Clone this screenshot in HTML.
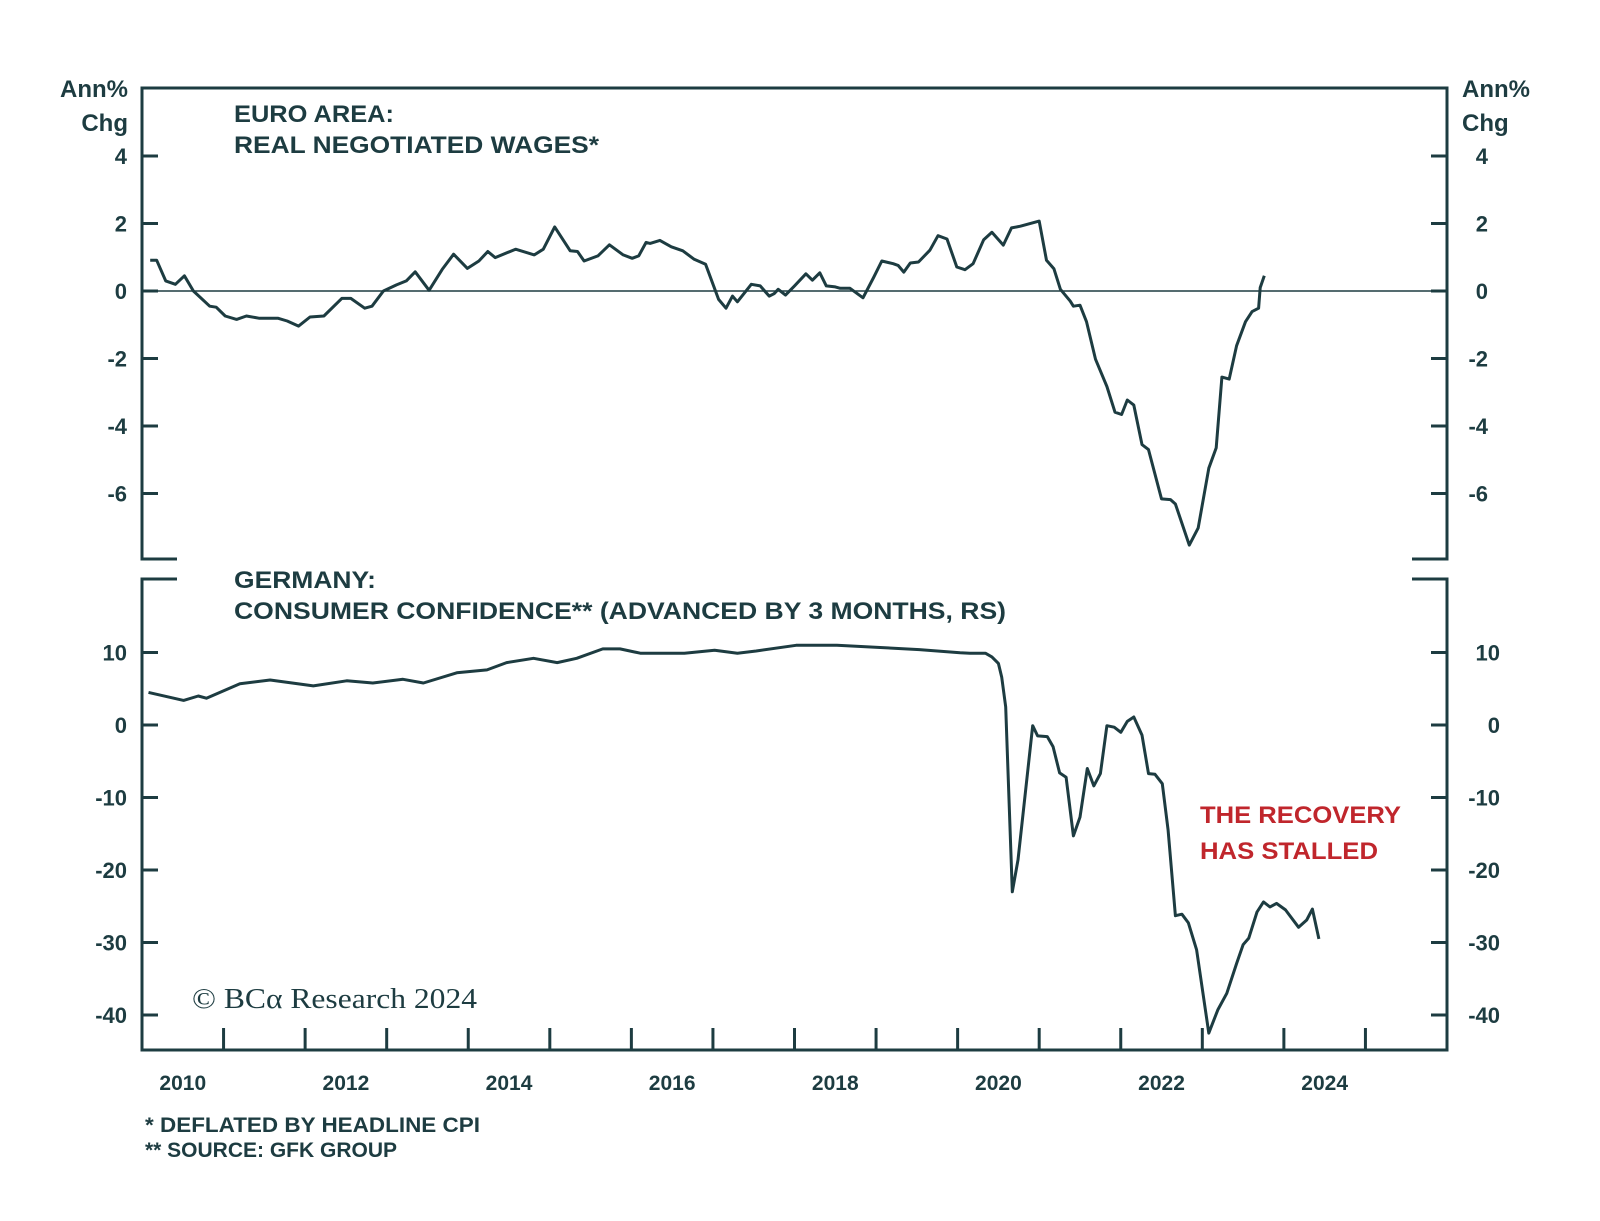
<!DOCTYPE html>
<html><head><meta charset="utf-8"><style>
html,body{margin:0;padding:0;background:#fff;}
svg{display:block;}
text{font-family:"Liberation Sans",sans-serif;fill:#1d3c41;font-weight:bold;}
</style></head><body>
<svg id="chart" width="1600" height="1221" viewBox="0 0 1600 1221" xmlns="http://www.w3.org/2000/svg">
<g id="frames" stroke="#1d3c41" stroke-width="3" fill="none">
  <path d="M177,559 H142 V88 H1447 V559 H1412"/>
  <path d="M177,579 H142 V1050 H1447 V579 H1412"/>
</g>
<g id="axes"></g>
<g id="series"></g>
<text x="128" y="97" text-anchor="end" font-size="24">Ann%</text>
<text x="128" y="131" text-anchor="end" font-size="24">Chg</text>
<text x="1462" y="97" font-size="24">Ann%</text>
<text x="1462" y="131" font-size="24">Chg</text>
<text x="234" y="122" font-size="24" textLength="160" lengthAdjust="spacingAndGlyphs">EURO AREA:</text>
<text x="234" y="153" font-size="24" textLength="365" lengthAdjust="spacingAndGlyphs">REAL NEGOTIATED WAGES*</text>
<text x="234" y="588" font-size="24" textLength="142" lengthAdjust="spacingAndGlyphs">GERMANY:</text>
<text x="234" y="619" font-size="24" textLength="772" lengthAdjust="spacingAndGlyphs">CONSUMER CONFIDENCE** (ADVANCED BY 3 MONTHS, RS)</text>
<text x="1200" y="823" font-size="24" style="fill:#c0262c" textLength="201" lengthAdjust="spacingAndGlyphs">THE RECOVERY</text>
<text x="1200" y="859" font-size="24" style="fill:#c0262c" textLength="178" lengthAdjust="spacingAndGlyphs">HAS STALLED</text>
<text x="192" y="1008" font-size="28" style="font-family:'Liberation Serif',serif;font-weight:normal" textLength="285" lengthAdjust="spacingAndGlyphs">© BCα Research 2024</text>
<text x="145" y="1132" font-size="21" textLength="335" lengthAdjust="spacingAndGlyphs">*  DEFLATED BY HEADLINE CPI</text>
<text x="145" y="1157" font-size="21" textLength="252" lengthAdjust="spacingAndGlyphs">** SOURCE: GFK GROUP</text>
</svg>
<script>
const wageYears=[2010.10,2010.18,2010.29,2010.41,2010.52,2010.63,2010.83,2010.91,2011.02,2011.16,2011.28,2011.44,2011.67,2011.78,2011.92,2012.06,2012.23,2012.45,2012.56,2012.73,2012.82,2012.96,2013.12,2013.24,2013.35,2013.52,2013.68,2013.82,2013.99,2014.13,2014.24,2014.33,2014.58,2014.81,2014.92,2015.06,2015.25,2015.34,2015.42,2015.59,2015.73,2015.90,2016.01,2016.09,2016.18,2016.23,2016.35,2016.49,2016.63,2016.77,2016.91,2017.07,2017.16,2017.24,2017.30,2017.47,2017.58,2017.69,2017.75,2017.80,2017.89,2018.00,2018.14,2018.22,2018.31,2018.39,2018.50,2018.56,2018.68,2018.84,2018.97,2019.07,2019.21,2019.27,2019.34,2019.42,2019.52,2019.66,2019.76,2019.87,2019.99,2020.09,2020.19,2020.32,2020.42,2020.56,2020.66,2020.77,2021.00,2021.09,2021.18,2021.26,2021.38,2021.42,2021.50,2021.58,2021.69,2021.83,2021.93,2022.01,2022.08,2022.16,2022.26,2022.34,2022.50,2022.61,2022.67,2022.84,2022.95,2023.08,2023.17,2023.24,2023.33,2023.42,2023.53,2023.61,2023.69,2023.71,2023.76];
const wageValues=[0.91,0.91,0.30,0.20,0.45,0,-0.45,-0.48,-0.74,-0.84,-0.74,-0.81,-0.81,-0.89,-1.04,-0.77,-0.74,-0.22,-0.22,-0.51,-0.45,0,0.18,0.30,0.57,0.02,0.64,1.09,0.67,0.89,1.17,0.99,1.24,1.07,1.24,1.90,1.19,1.17,0.89,1.04,1.37,1.07,0.97,1.04,1.44,1.41,1.50,1.31,1.19,0.94,0.79,-0.25,-0.51,-0.15,-0.32,0.20,0.15,-0.15,-0.08,0.05,-0.12,0.15,0.51,0.32,0.54,0.15,0.12,0.08,0.08,-0.20,0.40,0.89,0.81,0.76,0.56,0.83,0.86,1.21,1.64,1.54,0.71,0.63,0.81,1.52,1.74,1.36,1.87,1.92,2.07,0.91,0.66,0.05,-0.30,-0.45,-0.42,-0.91,-2.02,-2.83,-3.59,-3.66,-3.23,-3.38,-4.55,-4.70,-6.16,-6.18,-6.31,-7.53,-7.02,-5.25,-4.65,-2.55,-2.61,-1.62,-0.91,-0.61,-0.51,0.10,0.45];
const confYears=[2010.08,2010.51,2010.69,2010.79,2011.20,2011.57,2012.10,2012.51,2012.83,2013.20,2013.45,2013.86,2014.23,2014.47,2014.80,2015.09,2015.33,2015.65,2015.86,2016.11,2016.65,2017.02,2017.30,2017.53,2018.02,2018.52,2019.02,2019.53,2020.03,2020.15,2020.34,2020.42,2020.50,2020.54,2020.59,2020.67,2020.74,2020.92,2020.98,2021.10,2021.17,2021.25,2021.33,2021.42,2021.50,2021.59,2021.67,2021.75,2021.83,2021.92,2022.00,2022.08,2022.16,2022.26,2022.34,2022.42,2022.51,2022.58,2022.67,2022.75,2022.83,2022.93,2023.08,2023.19,2023.30,2023.42,2023.50,2023.57,2023.67,2023.75,2023.83,2023.91,2024.02,2024.18,2024.28,2024.35,2024.43];
const confValues=[4.5,3.4,4.0,3.7,5.7,6.2,5.4,6.1,5.8,6.3,5.8,7.2,7.6,8.6,9.2,8.6,9.2,10.5,10.5,9.9,9.9,10.3,9.9,10.2,11.0,11.0,10.7,10.4,9.97,9.9,9.9,9.4,8.5,6.6,2.5,-23,-18.6,-0.1,-1.5,-1.6,-3.0,-6.6,-7.2,-15.3,-12.7,-6.0,-8.4,-6.7,-0.1,-0.3,-1.0,0.5,1.1,-1.4,-6.7,-6.8,-8.1,-14.5,-26.3,-26.1,-27.3,-31.0,-42.5,-39.3,-37.0,-32.9,-30.3,-29.4,-25.8,-24.4,-25.1,-24.6,-25.5,-27.9,-26.9,-25.4,-29.5];
const topTicks=[4,2,0,-2,-4,-6];
const bottomTicks=[10,0,-10,-20,-30,-40];
const yearLabels=["2010","2012","2014","2016","2018","2020","2022","2024"];

const NS="http://www.w3.org/2000/svg";
const X0=142,X1=1447,T0=2010,T1=2026;
function xs(t){return X0+(t-T0)/(T1-T0)*(X1-X0);}
function yTop(v){return 291-v*33.75;}
function yBot(v){return 725-v*7.25;}
function mk(tag,attrs,parent){const e=document.createElementNS(NS,tag);for(const k in attrs)e.setAttribute(k,attrs[k]);parent.appendChild(e);return e;}
const axes=document.getElementById('axes');
const ser=document.getElementById('series');
const st={stroke:"#1d3c41","stroke-width":3,fill:"none"};

topTicks.forEach(v=>{
  const y=yTop(v);
  const l=mk('path',Object.assign({d:`M${X0},${y}H${X0+16}M${X1},${y}H${X1-16}`},st),axes);
  
  
  const a=mk('text',{x:127,y:y+8,"text-anchor":"end","font-size":22},axes);a.textContent=v;
  
  
  const b=mk('text',{x:1488,y:y+8,"text-anchor":"end","font-size":22},axes);b.textContent=v;
  
  
});
bottomTicks.forEach(v=>{
  const y=yBot(v);
  const l=mk('path',Object.assign({d:`M${X0},${y}H${X0+16}M${X1},${y}H${X1-16}`},st),axes);
  
  
  const a=mk('text',{x:127,y:y+8,"text-anchor":"end","font-size":22},axes);a.textContent=v;
  
  
  const b=mk('text',{x:1500,y:y+8,"text-anchor":"end","font-size":22},axes);b.textContent=v;
  
  
});
for(let yr=2011;yr<=2025;yr++){
  const l=mk('path',Object.assign({d:`M${xs(yr)},1050V1028`},st),axes);
  
  
}
yearLabels.forEach(s=>{
  const t=mk('text',{x:xs(+s+0.5),y:1090,"text-anchor":"middle","font-size":21},axes);t.textContent=s;
  
  
});
const z=mk('line',{x1:X0,x2:X1,y1:yTop(0),y2:yTop(0),stroke:"#1d3c41","stroke-width":1.6},axes);



function line(xsArr,vs,yf){return xsArr.map((t,i)=>(i?'L':'M')+xs(t).toFixed(1)+','+yf(vs[i]).toFixed(1)).join('');}
const p1=mk('path',{d:line(wageYears,wageValues,yTop),stroke:"#1d3c41","stroke-width":3,fill:"none","stroke-linejoin":"round"},ser);


const p2=mk('path',{d:line(confYears,confValues,yBot),stroke:"#1d3c41","stroke-width":3,fill:"none","stroke-linejoin":"round"},ser);


</script>
</body></html>
